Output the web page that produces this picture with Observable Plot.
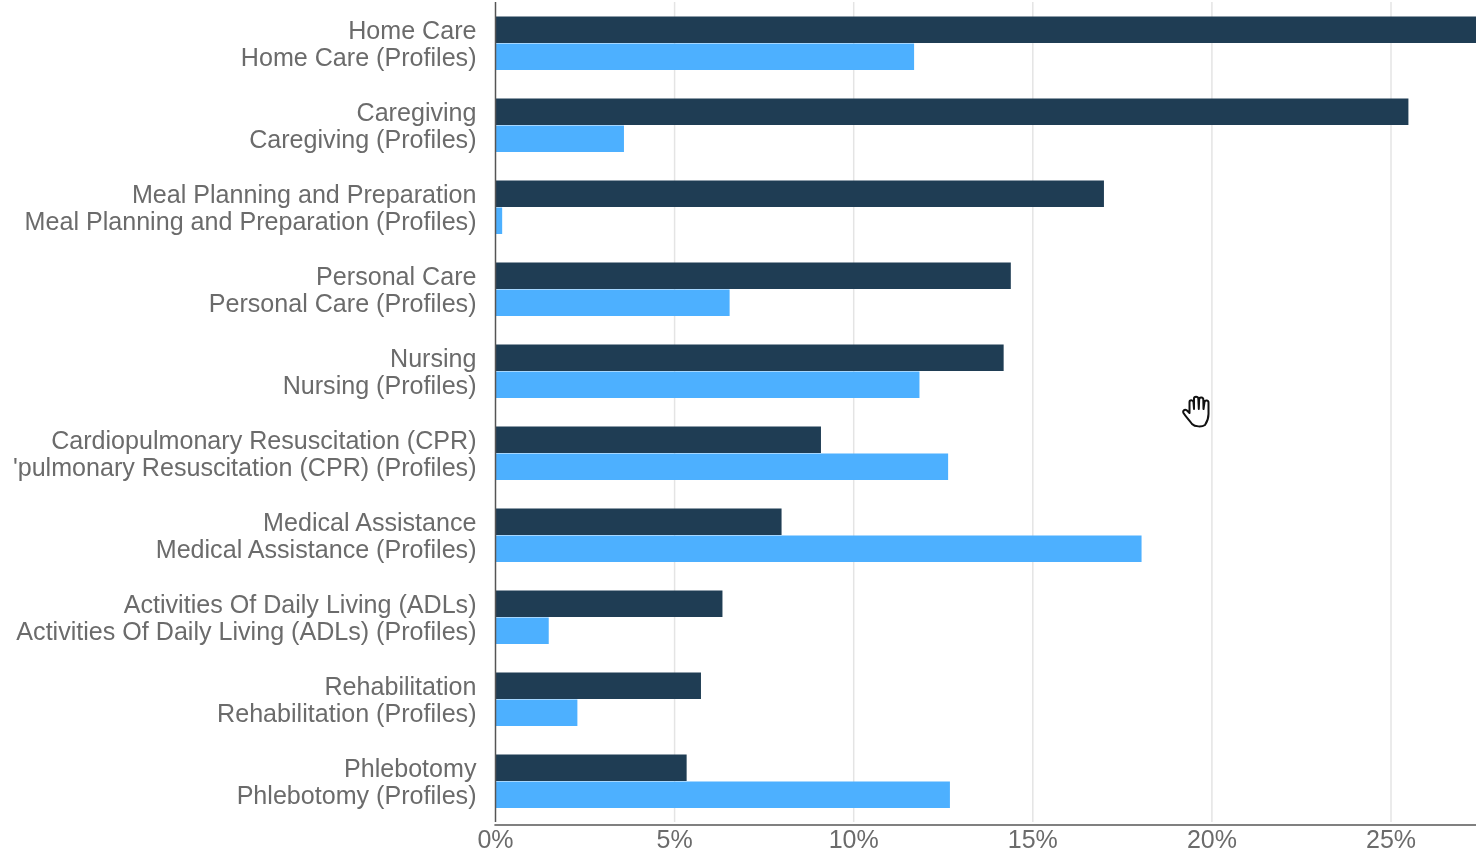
<!DOCTYPE html>
<html><head><meta charset="utf-8">
<script src="https://cdn.jsdelivr.net/npm/d3@7"></script>
<script src="https://cdn.jsdelivr.net/npm/@observablehq/plot@0.6"></script>
<style>
html,body{margin:0;padding:0;background:#fff;overflow:hidden}
#chart{position:relative;width:1476px;height:852px}
#chart>svg{display:block;overflow:hidden;filter:blur(0.55px)}
#cursor{position:absolute;left:1180px;top:393px;width:36px;height:36px;filter:blur(0.4px)}
</style></head><body><div id="chart"></div>
<script>
const groups = ["Home Care","Caregiving","Meal Planning and Preparation","Personal Care","Nursing","Cardiopulmonary Resuscitation (CPR)","Medical Assistance","Activities Of Daily Living (ADLs)","Rehabilitation","Phlebotomy"];
const profileLabels = ["Home Care (Profiles)","Caregiving (Profiles)","Meal Planning and Preparation (Profiles)","Personal Care (Profiles)","Nursing (Profiles)","'pulmonary Resuscitation (CPR) (Profiles)","Medical Assistance (Profiles)","Activities Of Daily Living (ADLs) (Profiles)","Rehabilitation (Profiles)","Phlebotomy (Profiles)"];
const valuesJobs = [27.6,25.5,17.0,14.4,14.2,9.1,8.0,6.35,5.75,5.35];
const valuesProfiles = [11.7,3.6,0.2,6.55,11.85,12.65,18.05,1.5,2.3,12.7];
const seriesNames = ["base","profiles"];
const xTicks = [0,5,10,15,20,25];
const colors = ["#1f3d54","#4db0ff"];

const rows = groups.flatMap((g,i)=>[
  {group:g, series:"base", value:valuesJobs[i], label:g},
  {group:g, series:"profiles", value:valuesProfiles[i], label:profileLabels[i]}
]);

const chart = Plot.plot({
  width:1476, height:852,
  marginLeft:495, marginRight:0, marginTop:1.5, marginBottom:30.5,
  style:{background:"#fff", fontFamily:"'Liberation Sans',Arial,sans-serif"},
  x:{domain:[0,981/35.82], axis:null},
  fy:{domain:groups, padding:0, axis:null},
  y:{domain:seriesNames, paddingInner:0, paddingOuter:0.5, axis:null},
  color:{domain:seriesNames, range:colors},
  marks:[
    Plot.ruleX(xTicks.slice(1),{stroke:"#e4e4e4", strokeWidth:1.5}),
    Plot.barX(rows,{x1:0,x2:"value",y:"series",fy:"group",fill:"series",insetBottom:0.5,clip:true}),
    Plot.text(rows,{x:0,y:"series",fy:"group",text:"label",textAnchor:"end",dx:-19,fontSize:25.1,fill:"#6b6b6b"}),
    Plot.ruleX([0],{stroke:"#555",strokeWidth:1.5}),
    Plot.frame({anchor:"bottom",facet:"super",dy:2.5,stroke:"#808080",strokeWidth:2.2}),
    Plot.axisX({ticks:xTicks,tickFormat:d=>d+"%",tickSize:0,tickPadding:8,fontSize:25,anchor:"bottom",label:null,fill:"#6b6b6b"})
  ]
});
const wrap = document.getElementById("chart");
wrap.append(chart);
// Mouse pointer captured in the source screenshot (not data)
wrap.insertAdjacentHTML("beforeend",`<svg id="cursor" viewBox="0 0 36 36"><path d="M12 31 C9 27 6 24 3.5 20 C2.5 18 4.5 15.5 7 17.5 L9.5 20 L9.5 9 C9.5 6.5 13 6.5 13.5 9 L14 16 L14 5.5 C14 3 18 3 18.3 5.5 L18.8 16 L19.2 6 C19.5 3.7 23.3 4 23.3 6.5 L23.5 16 L24.5 9 C25 6.8 28.5 7.2 28.5 9.5 L28.5 21 C28.5 26 27 29 25 32 C22 34 15 34 12 31 Z" fill="#fff" stroke="#111" stroke-width="2" stroke-linejoin="round"/></svg>`);
</script></body></html>
